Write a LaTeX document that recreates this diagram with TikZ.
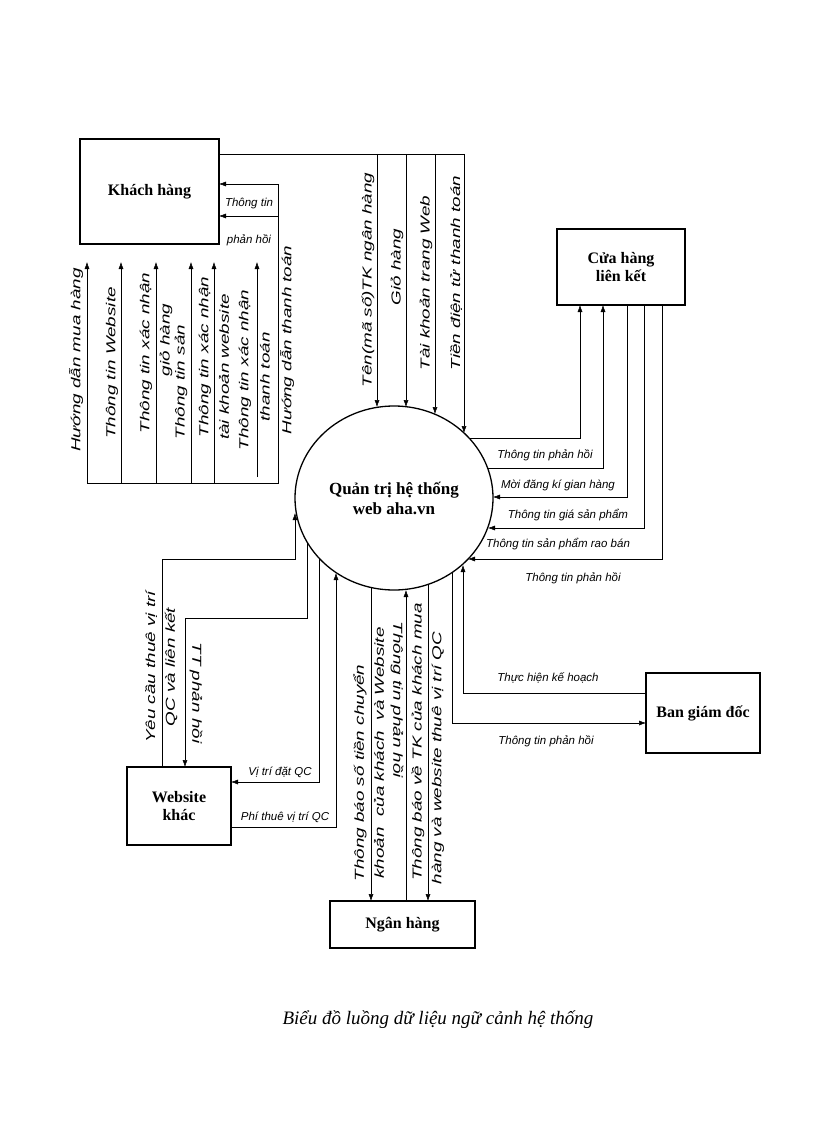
\documentclass[tikz,border=0pt]{standalone}
\usepackage{fontspec}
\setmainfont{Liberation Serif}
\newfontfamily\lblfont{Liberation Sans}
\usetikzlibrary{shapes.geometric,arrows.meta}
\newcommand\wide[1]{\scalebox{1.45}[1]{#1}}
\tikzset{
 ent/.style={draw,line width=1.3pt,font=\bfseries\fontsize{16}{18}\selectfont,align=center,inner sep=0pt},
 flow/.style={line width=0.5pt,-{Latex[length=7pt,width=5pt]}},
 pl/.style={line width=0.5pt},
 lb/.style={font=\lblfont\itshape\fontsize{11.5}{13}\selectfont,inner sep=0pt},
 vl/.style={font=\lblfont\itshape\fontsize{13}{15}\selectfont,inner sep=0pt,rotate=90},
 vr/.style={vl,rotate=180},
}
\begin{document}
\begin{tikzpicture}[x=1pt,y=-1pt]
\useasboundingbox (0,0) rectangle (816,1123);
% entities
\node[ent,minimum width=139pt,minimum height=105pt] (kh) at (149.5,191.5) {Khách hàng};
\node[ent,minimum width=128pt,minimum height=76pt] (ch) at (621,267) {Cửa hàng\\liên kết};
\node[ent,minimum width=114pt,minimum height=80pt] (bgd) at (703,713) {Ban giám đốc};
\node[ent,minimum width=104pt,minimum height=78pt] (wk) at (179,806) {Website\\khác};
\node[ent,minimum width=145pt,minimum height=47pt] (nh) at (402.5,924.5) {Ngân hàng};
\node[draw,ellipse,line width=1.3pt,minimum width=198pt,minimum height=184pt,inner sep=0pt,align=center,font=\bfseries\fontsize{17}{20}\selectfont] (ht) at (394,498) {Quản trị hệ thống\\web aha.vn};

% Khach hang -> he thong (top)
\draw[pl] (219,154) -- (464,154);
\draw[flow] (377,154) -- (377,407);
\draw[flow] (406,154) -- (406,407);
\draw[flow] (435,154) -- (435,414);
\draw[flow] (464,154) -- (464,433);
\node[vl] at (368,280) {\wide{Tên(mã số)TK ngân hàng}};
\node[vl] at (397,267) {\wide{Giỏ hàng}};
\node[vl] at (426,283) {\wide{Tài khoản trang Web}};
\node[vl] at (456,273) {\wide{Tiền điện tử thanh toán}};

% he thong -> khach hang (left)
\draw[pl] (87,483) -- (278,483) -- (278,184);
\draw[flow] (278,184) -- (219,184);
\draw[flow] (278,216) -- (219,216);
\node[lb] at (249,204) {Thông tin};
\node[lb] at (249,240) {phản hồi};
\draw[flow] (87,483) -- (87,262);
\draw[flow] (121,483) -- (121,262);
\draw[flow] (156,483) -- (156,262);
\draw[flow] (191,483) -- (191,262);
\draw[flow] (214,483) -- (214,262);
\draw[flow] (257,477) -- (257,262);
\node[vl] at (76,360) {\wide{Hướng dẫn mua hàng}};
\node[vl] at (112,363) {\wide{Thông tin Website}};
\node[vl] at (146,353) {\wide{Thông tin xác nhận}};
\node[vl] at (166,340) {\wide{giỏ hàng}};
\node[vl] at (181,382) {\wide{Thông tin sản}};
\node[vl] at (205,357) {\wide{Thông tin xác nhận}};
\node[vl] at (224,367) {\wide{tài khoản website}};
\node[vl] at (245,370) {\wide{Thông tin xác nhận}};
\node[vl] at (265,377) {\wide{thanh toán}};
\node[vl] at (287,340) {\wide{Hướng dẫn thanh toán}};

% cua hang lien ket
\draw[flow] (469,438) -- (580,438) -- (580,305);
\draw[flow] (488,468) -- (603,468) -- (603,305);
\draw[flow] (627,305) -- (627,497) -- (493,497);
\draw[flow] (644,305) -- (644,528) -- (488,528);
\draw[flow] (662,305) -- (662,559) -- (468,559);
\node[lb] at (545,455) {Thông tin phản hồi};
\node[lb] at (558,485) {Mời đăng kí gian hàng};
\node[lb] at (568,515) {Thông tin giá sản phẩm};
\node[lb] at (558,544) {Thông tin sản phẩm rao bán};
\node[lb] at (573,578) {Thông tin phản hồi};

% ban giam doc
\draw[flow] (646,693) -- (463,693) -- (463,565);
\draw[flow] (452,573) -- (452,723) -- (646,723);
\node[lb] at (548,678) {Thực hiện kế hoạch};
\node[lb] at (546,741) {Thông tin phản hồi};

% website khac
\draw[flow] (162,767) -- (162,559) -- (295,559) -- (295,513);
\draw[flow] (307,542) -- (307,618) -- (185,618) -- (185,767);
\draw[flow] (319,558) -- (319,782) -- (231,782);
\draw[flow] (231,827) -- (336,827) -- (336,573);
\node[vl] at (151,667) {\wide{Yêu cầu thuê vị trí}};
\node[vl] at (171,667) {\wide{QC và liên kết}};
\node[vr] at (196,693) {\wide{TT phản hồi}};
\node[lb] at (280,772) {Vị trí đặt QC};
\node[lb] at (285,817) {Phí thuê vị trí QC};

% ngan hang
\draw[flow] (371,588) -- (371,901);
\draw[flow] (406,901) -- (406,590);
\draw[flow] (428,584) -- (428,901);
\node[vl] at (360,773) {\wide{Thông báo số tiền chuyển}};
\node[vl] at (379,753) {\wide{khoản\ \ của khách\ \ và Website}};
\node[vr] at (397,700) {\wide{Thông tin phản hồi}};
\node[vl] at (418,742) {\wide{Thông báo về TK của khách mua}};
\node[vl] at (438,758) {\wide{hàng và website thuê vị trí QC}};

\node[font=\itshape\fontsize{19}{22}\selectfont] (title) at (438,1020) {Biểu đồ luồng dữ liệu ngữ cảnh hệ thống};
\end{tikzpicture}
\end{document}
